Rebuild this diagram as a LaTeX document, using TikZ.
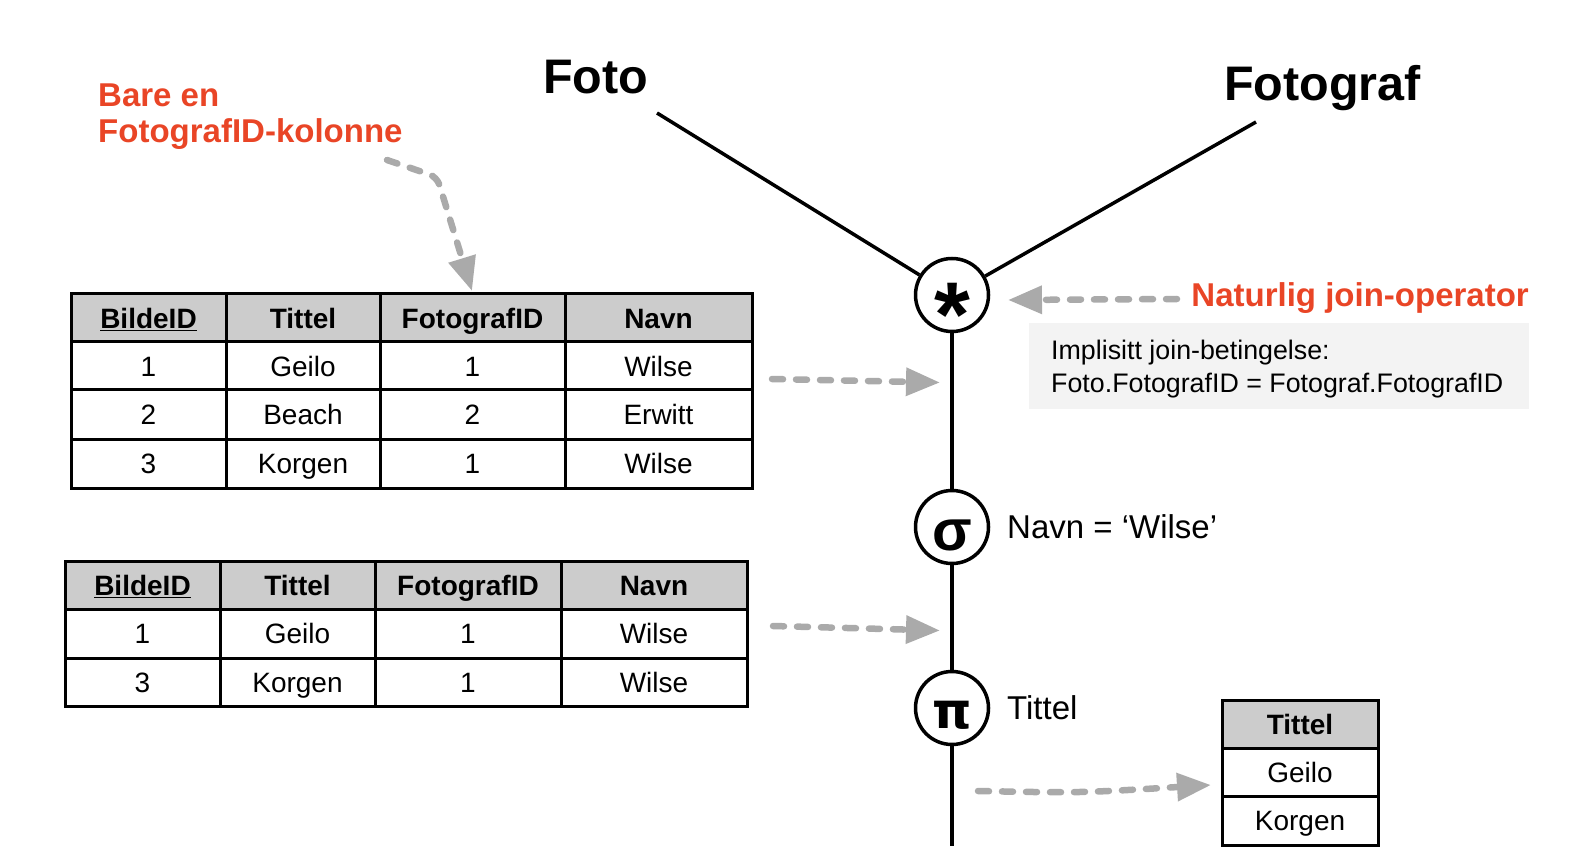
\documentclass[tikz,border=0pt]{standalone}
\usepackage{fontspec}
\setmainfont{Liberation Sans}
\newfontfamily\greekfont{DejaVu Sans}
\usetikzlibrary{arrows.meta}
\definecolor{redtxt}{RGB}{233,69,38}
\definecolor{arrowgray}{RGB}{170,170,170}
\definecolor{hdrgray}{RGB}{204,204,204}
\definecolor{boxgray}{RGB}{243,243,243}
\begin{document}
\begin{tikzpicture}[x=1pt,y=-1pt,
  cell/.style={draw, line width=3pt, inner sep=0pt, text height=20.5pt, text depth=0pt, font=\fontsize{28}{30}\selectfont},
  hcell/.style={cell, fill=hdrgray, font=\fontsize{28}{30}\selectfont\bfseries},
  garrow/.style={draw=arrowgray, line width=6.5pt, dash pattern=on 11pt off 13pt, line cap=round, -{Triangle[length=34pt,width=27pt]}},
  treeline/.style={line width=3.5pt, black},
  opcircle/.style={circle, draw, line width=3.5pt, minimum size=73pt, inner sep=0pt, fill=white},
  opsym/.style={font=\fontsize{58}{60}\selectfont\bfseries, inner sep=0pt},
  bigtitle/.style={font=\fontsize{48.5}{50}\selectfont\bfseries, inner sep=0pt},
  redlabel/.style={font=\fontsize{33}{35}\selectfont\bfseries, text=redtxt, inner sep=0pt},
  plain/.style={font=\fontsize{33}{35}\selectfont, inner sep=0pt},
  small/.style={font=\fontsize{26.8}{28}\selectfont, inner sep=0pt}
]
\useasboundingbox (0,0) rectangle (1574,866);

% ---------- table 1 ----------
\node[hcell, minimum width=155pt, minimum height=48pt] (t1h1) at (148.5,318) {\underline{BildeID}};
\node[hcell, minimum width=154pt, minimum height=48pt] (t1h2) at (303,318) {Tittel};
\node[hcell, minimum width=185pt, minimum height=48pt] (t1h3) at (472.5,318) {FotografID};
\node[hcell, minimum width=187pt, minimum height=48pt] (t1h4) at (658.5,318) {Navn};
\node[cell, minimum width=155pt, minimum height=48pt] (t1a1) at (148.5,366) {1};
\node[cell, minimum width=154pt, minimum height=48pt] (t1a2) at (303,366) {Geilo};
\node[cell, minimum width=185pt, minimum height=48pt] (t1a3) at (472.5,366) {1};
\node[cell, minimum width=187pt, minimum height=48pt] (t1a4) at (658.5,366) {Wilse};
\node[cell, minimum width=155pt, minimum height=49pt] (t1b1) at (148.5,414.5) {2};
\node[cell, minimum width=154pt, minimum height=49pt] (t1b2) at (303,414.5) {Beach};
\node[cell, minimum width=185pt, minimum height=49pt] (t1b3) at (472.5,414.5) {2};
\node[cell, minimum width=187pt, minimum height=49pt] (t1b4) at (658.5,414.5) {Erwitt};
\node[cell, minimum width=155pt, minimum height=49pt] (t1c1) at (148.5,463.5) {3};
\node[cell, minimum width=154pt, minimum height=49pt] (t1c2) at (303,463.5) {Korgen};
\node[cell, minimum width=185pt, minimum height=49pt] (t1c3) at (472.5,463.5) {1};
\node[cell, minimum width=187pt, minimum height=49pt] (t1c4) at (658.5,463.5) {Wilse};

% ---------- table 2 ----------
\node[hcell, minimum width=155pt, minimum height=48pt] (t2h1) at (142.5,585) {\underline{BildeID}};
\node[hcell, minimum width=155pt, minimum height=48pt] (t2h2) at (297.5,585) {Tittel};
\node[hcell, minimum width=186pt, minimum height=48pt] (t2h3) at (468,585) {FotografID};
\node[hcell, minimum width=186pt, minimum height=48pt] (t2h4) at (654,585) {Navn};
\node[cell, minimum width=155pt, minimum height=49pt] (t2a1) at (142.5,633.5) {1};
\node[cell, minimum width=155pt, minimum height=49pt] (t2a2) at (297.5,633.5) {Geilo};
\node[cell, minimum width=186pt, minimum height=49pt] (t2a3) at (468,633.5) {1};
\node[cell, minimum width=186pt, minimum height=49pt] (t2a4) at (654,633.5) {Wilse};
\node[cell, minimum width=155pt, minimum height=48pt] (t2b1) at (142.5,682) {3};
\node[cell, minimum width=155pt, minimum height=48pt] (t2b2) at (297.5,682) {Korgen};
\node[cell, minimum width=186pt, minimum height=48pt] (t2b3) at (468,682) {1};
\node[cell, minimum width=186pt, minimum height=48pt] (t2b4) at (654,682) {Wilse};

% ---------- table 3 ----------
\node[hcell, minimum width=156pt, minimum height=48pt] (t3h) at (1300,724) {Tittel};
\node[cell, minimum width=156pt, minimum height=48pt] (t3a) at (1300,772) {Geilo};
\node[cell, minimum width=156pt, minimum height=49pt] (t3b) at (1300,820.5) {Korgen};

% ---------- tree ----------
\node[bigtitle, anchor=base west] (foto) at (543,93.5) {Foto};
\node[bigtitle, anchor=base west] (fotograf) at (1224,100.5) {Fotograf};
\coordinate (fotoend) at (657,113);
\coordinate (fotografend) at (1256,122);
\coordinate (bottom) at (952,846);

\node[opcircle] (join) at (952,295) {};
\node[opcircle] (sel) at (952,527) {};
\node[opcircle] (proj) at (952,708) {};

\draw[treeline] (fotoend) -- (join);
\draw[treeline] (fotografend) -- (join);
\draw[treeline] (join) -- (sel);
\draw[treeline] (sel) -- (proj);
\draw[treeline] (proj) -- (bottom);

\node[font=\fontsize{92}{92}\selectfont\bfseries, inner sep=0pt, anchor=base] (ast) at (952,347) {*};
\node[opsym, anchor=base] (sigma) at (952,550) {σ};
\node[font=\fontsize{50}{52}\greekfont\bfseries, inner sep=0pt, anchor=base] (pi) at (952,728) {π};

\node[plain, anchor=base west] (cond) at (1007,538) {Navn = ‘Wilse’};
\node[plain, anchor=base west] (projlab) at (1007,719) {Tittel};

% ---------- annotations ----------
\node[redlabel, anchor=base west] (bare1) at (98,106.5) {Bare en};
\node[redlabel, anchor=base west] (bare2) at (98,142.5) {FotografID-kolonne};
\node[redlabel, anchor=base east] (natjoin) at (1529,307) {Naturlig join-operator};

\node[fill=boxgray, anchor=north west, minimum width=500pt, minimum height=86pt, inner sep=0pt] (gbox) at (1029,323) {};
\node[small, anchor=base west] (impl1) at (1051,360) {Implisitt join-betingelse:};
\node[small, anchor=base west] (impl2) at (1051,392.5) {Foto.FotografID = Fotograf.FotografID};

% ---------- gray arrows ----------
\coordinate (a1s) at (772,379);
\coordinate (a1e) at (940,382.5);
\coordinate (a2s) at (773,626);
\coordinate (a2e) at (940,630.5);
\coordinate (a3s) at (978,791);
\coordinate (a3e) at (1211,785);
\coordinate (njs) at (1177,299);
\coordinate (nje) at (1008,300);
\coordinate (bs) at (387,160);
\coordinate (bc) at (437,177);
\coordinate (be) at (472,291);

\draw[garrow] (a1s) -- (a1e);
\draw[garrow] (a2s) -- (a2e);
\draw[garrow] (a3s) .. controls (1080,793) .. (a3e);
\draw[garrow] (njs) -- (nje);
\draw[garrow, rounded corners=8pt] (bs) -- (bc) -- (be);
\end{tikzpicture}
\end{document}
